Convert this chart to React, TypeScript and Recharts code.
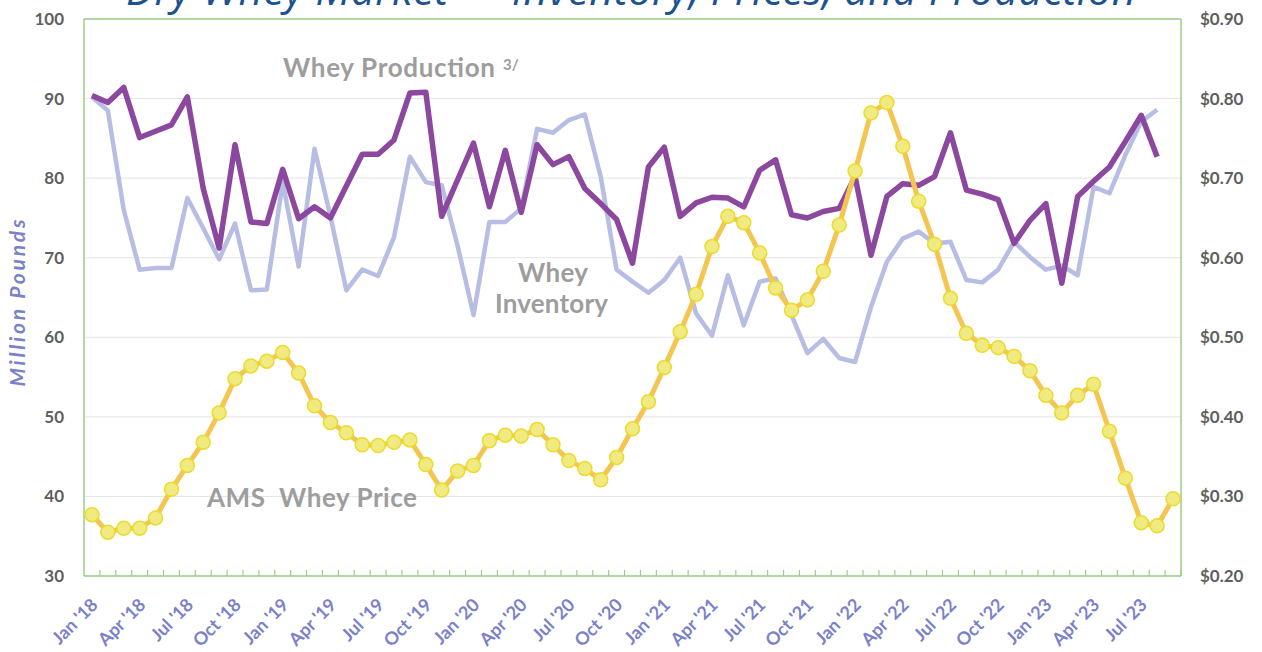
import {
  CartesianGrid,
  ComposedChart,
  Line,
  ReferenceLine,
  XAxis,
  YAxis,
} from "recharts";

// Monthly, Jan '18 .. Sep '23
const MONTHS = ["Jan", "Feb", "Mar", "Apr", "May", "Jun", "Jul", "Aug", "Sep", "Oct", "Nov", "Dec"];
const YEARS = ["18", "19", "20", "21", "22", "23"];
const N_MONTHS = 69;

// Whey production, million pounds (left axis)
const production = [
  90.4, 89.5, 91.4, 85.1, 85.9, 86.7, 90.2, 78.7, 71.2, 84.2, 74.5, 74.3,
  81.1, 74.9, 76.4, 75.0, 79.0, 83.0, 83.0, 84.8, 90.7, 90.8, 75.2, 79.8,
  84.4, 76.4, 83.5, 75.7, 84.2, 81.7, 82.7, 78.7, 76.8, 74.8, 69.3, 81.4,
  83.9, 75.2, 76.9, 77.6, 77.5, 76.4, 81.0, 82.3, 75.4, 75.0, 75.8, 76.2,
  80.2, 70.3, 77.7, 79.3, 79.1, 80.2, 85.7, 78.5, 78.0, 77.3, 71.8, 74.7,
  76.8, 66.8, 77.7, 79.6, 81.4, 84.6, 87.9, 82.7,
];

// Whey inventory, million pounds (left axis)
const inventory = [
  90.2, 88.5, 76.0, 68.5, 68.7, 68.7, 77.5, 73.7, 69.8, 74.3, 65.9, 66.0,
  79.5, 68.9, 83.7, 75.2, 65.9, 68.5, 67.7, 72.6, 82.7, 79.5, 79.1, 71.5,
  62.8, 74.5, 74.5, 76.2, 86.2, 85.7, 87.3, 88.0, 80.2, 68.5, 67.0, 65.6,
  67.2, 70.0, 63.0, 60.2, 67.8, 61.5, 67.0, 67.4, 62.8, 58.0, 59.8, 57.4,
  56.9, 63.8, 69.5, 72.4, 73.3, 71.8, 72.0, 67.2, 66.9, 68.5, 72.0, 70.1,
  68.5, 69.0, 67.8, 78.9, 78.1, 82.9, 87.1, 88.6,
];

// AMS whey price, $/lb (right axis)
const price = [
  0.277, 0.255, 0.26, 0.26, 0.273, 0.309, 0.339, 0.368, 0.405, 0.448, 0.464, 0.47,
  0.481, 0.455, 0.414, 0.393, 0.38, 0.365, 0.364, 0.368, 0.371, 0.34, 0.308, 0.332,
  0.339, 0.37, 0.377, 0.376, 0.384, 0.365, 0.345, 0.335, 0.321, 0.349, 0.385, 0.419,
  0.462, 0.507, 0.554, 0.614, 0.652, 0.644, 0.606, 0.562, 0.534, 0.547, 0.583, 0.641,
  0.709, 0.782, 0.795, 0.74, 0.671, 0.617, 0.549, 0.505, 0.49, 0.487, 0.476, 0.458,
  0.427, 0.405, 0.427, 0.441, 0.382, 0.323, 0.267, 0.263, 0.297,
];

const LEFT_TICKS = [30, 40, 50, 60, 70, 80, 90, 100];
const RIGHT_TICKS = [0.2, 0.3, 0.4, 0.5, 0.6, 0.7, 0.8, 0.9];

const categories: string[] = [];
for (let i = 0; i < N_MONTHS; i++) {
  categories.push(`${MONTHS[i % 12]} '${YEARS[Math.floor(i / 12)]}`);
}

const data = categories.map((month, i) => ({
  month,
  production: production[i],
  inventory: inventory[i],
  price: price[i],
}));

const GREEN = "#9dcd85";
const GRID = "#e4e4e4";
const AXIS_TEXT = "#5f5f5f";
const MONTH_TEXT = "#7b81c9";
const NOTE = "#9d9d9d";
const FONT = "Lato, 'Open Sans', sans-serif";

// excel-style: small tick between months, label every quarter
function MonthTick(props: any) {
  const { x, y, payload, index } = props;
  const off = payload?.offset ?? 0;
  return (
    <g>
      <line x1={x + off} x2={x + off} y1={y} y2={y - 6} stroke={GREEN} strokeWidth={1.2} />
      {index % 3 === 0 && (
        <text
          transform={`translate(${x + 7},${y + 30}) rotate(-45)`}
          textAnchor="end"
          fontFamily={FONT}
          fontWeight={700}
          fontSize={18}
          fill={MONTH_TEXT}
        >
          {payload.value}
        </text>
      )}
    </g>
  );
}

export default function App() {
  return (
    <div
      style={{
        position: "absolute",
        left: 0,
        top: 0,
        width: 1262,
        height: 652,
        background: "#fff",
        overflow: "hidden",
      }}
    >
      <ComposedChart
        width={1262}
        height={652}
        data={data}
        margin={{ top: 19, right: 0, bottom: 0, left: 0 }}
      >
        <CartesianGrid yAxisId="left" horizontal vertical={false} stroke={GRID} />
        <XAxis
          dataKey="month"
          scale="band"
          interval={0}
          height={76}
          tickSize={0}
          tickMargin={0}
          tickLine={false}
          axisLine={{ stroke: GREEN, strokeWidth: 1.5 }}
          tick={<MonthTick />}
        />
        <YAxis
          yAxisId="left"
          width={84}
          domain={[30, 100]}
          ticks={LEFT_TICKS}
          tickSize={0}
          tickMargin={20}
          tickLine={false}
          axisLine={{ stroke: GREEN, strokeWidth: 1.5 }}
          tick={{ fill: AXIS_TEXT, fontSize: 17, fontWeight: 700, fontFamily: FONT }}
        />
        <YAxis
          yAxisId="right"
          orientation="right"
          width={81}
          domain={[0.2, 0.9]}
          ticks={RIGHT_TICKS}
          tickSize={0}
          tickMargin={19}
          tickLine={false}
          axisLine={{ stroke: GREEN, strokeWidth: 1.5 }}
          tickFormatter={(v: number) => `$${v.toFixed(2)}`}
          tick={{ fill: AXIS_TEXT, fontSize: 17, fontWeight: 700, fontFamily: FONT }}
        />
        <ReferenceLine yAxisId="left" y={100} stroke={GREEN} strokeWidth={1.5} />
        <Line
          yAxisId="left"
          dataKey="inventory"
          stroke="#b7bde3"
          strokeWidth={4.5}
          strokeLinejoin="round"
          dot={false}
          isAnimationActive={false}
        />
        <Line
          yAxisId="left"
          dataKey="production"
          stroke="#8c479f"
          strokeWidth={5.5}
          strokeLinejoin="round"
          dot={false}
          isAnimationActive={false}
        />
        <Line
          yAxisId="right"
          dataKey="price"
          stroke="#f4c651"
          strokeWidth={5}
          strokeLinejoin="round"
          dot={{ r: 7, fill: "#f1ea80", stroke: "#e9dc2c", strokeWidth: 1.5 }}
          isAnimationActive={false}
        />
      </ComposedChart>

      <svg
        width={1262}
        height={652}
        style={{ position: "absolute", left: 0, top: 0, pointerEvents: "none" }}
      >
        {/* title sits mostly above the frame, as in the source slide */}
        <text
          x={631}
          y={5}
          textAnchor="middle"
          fontFamily="'Open Sans', sans-serif"
          fontStyle="italic"
          fontSize={42}
          fill="#1d5190"
          textLength={1010}
        >
          Dry Whey Market — Inventory, Prices, and Production
        </text>
        <text
          transform="translate(25,303) rotate(-90)"
          textAnchor="middle"
          fontFamily={FONT}
          fontStyle="italic"
          fontWeight={700}
          fontSize={21}
          fill={MONTH_TEXT}
          textLength={167}
        >
          Million Pounds
        </text>
        <g fontFamily={FONT} fontWeight={700} fill={NOTE}>
          <text x={283} y={77} fontSize={26} textLength={212}>
            Whey Production
          </text>
          <text x={503} y={70} fontSize={15}>
            3/
          </text>
          <text x={518} y={282} fontSize={26} textLength={70}>
            Whey
          </text>
          <text x={495} y={313} fontSize={26} textLength={113}>
            Inventory
          </text>
          <text x={207} y={507} fontSize={26} textLength={210} style={{ whiteSpace: "pre" }}>
            AMS  Whey Price
          </text>
        </g>
      </svg>
    </div>
  );
}
